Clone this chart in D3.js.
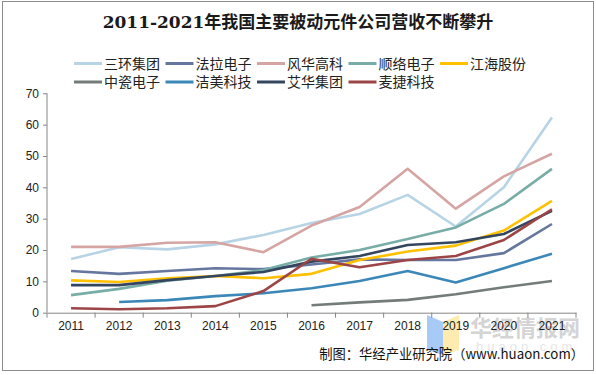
<!DOCTYPE html>
<html>
<head>
<meta charset="utf-8">
<script src="https://cdn.jsdelivr.net/npm/d3@7"></script>
<style>
body{margin:0;background:#fff;}
svg{display:block;font-family:Arial,"Liberation Sans",sans-serif;}
</style>
</head>
<body>
<svg id="chart" width="596" height="375"></svg>
<script>
// data
var years = ["2011","2012","2013","2014","2015","2016","2017","2018","2019","2020","2021"];
var yTicks = [0,10,20,30,40,50,60,70];
var names = ["三环集团","法拉电子","风华高科","顺络电子","江海股份","中瓷电子","洁美科技","艾华集团","麦捷科技"];
var colors = ["#b7d4e6","#66779f","#d5a5a4","#78ada7","#ffc000","#737c79","#3b88b8","#34455f","#9c4546"];
var sanhuan  = [17.1,20.9,20.2,21.8,24.8,28.6,31.5,37.6,27.5,40.0,62.3];
var fala     = [13.3,12.4,13.3,14.2,13.9,15.4,17.0,16.8,16.8,19.0,28.3];
var fenghua  = [21.0,21.0,22.3,22.5,19.3,27.8,33.7,45.9,33.2,43.5,50.7];
var shunluo  = [5.6,7.6,10.2,11.7,13.6,17.6,20.0,23.5,27.2,34.7,45.9];
var jianghai = [10.3,9.8,11.0,11.7,11.0,12.4,16.8,19.5,21.4,26.2,35.7];
var zhongci  = [null,null,null,null,null,2.4,3.3,4.1,5.9,8.1,10.1];
var jiemei   = [null,3.4,4.0,5.3,6.2,7.8,10.1,13.3,9.6,14.2,18.8];
var aihua    = [8.8,8.8,10.4,11.7,13.0,16.3,18.1,21.6,22.5,25.1,32.5];
var maijie   = [1.4,1.1,1.4,2.1,6.9,17.2,14.5,16.8,18.1,23.2,33.0];
var series = [sanhuan,fala,fenghua,shunluo,jianghai,zhongci,jiemei,aihua,maijie];

var svg = d3.select("#chart");

// outer frame
svg.append("rect").attr("x",2.5).attr("y",1.5).attr("width",591).attr("height",369)
  .attr("fill","none").attr("stroke","#8c8c8c").attr("stroke-width",1);

svg.append("text").attr("x",298).attr("y",28).attr("text-anchor","middle")
  .attr("font-family","'DejaVu Serif','Noto Sans CJK SC',serif").attr("font-weight","bold")
  .attr("font-size",17).attr("fill","#1a1a1a")
  .text("2011-2021年我国主要被动元件公司营收不断攀升");

// legend
var leg = svg.append("g").attr("font-family","'Noto Sans CJK SC',sans-serif");
names.forEach(function(n,i){
  var row = i < 5 ? 0 : 1, col = i < 5 ? i : i - 5;
  var lx = 74 + col*91.5, ly = 63.5 + row*18.5;
  leg.append("line").attr("x1",lx).attr("x2",lx+28).attr("y1",ly).attr("y2",ly)
    .attr("stroke",colors[i]).attr("stroke-width",3);
  leg.append("text").attr("x",lx+30).attr("y",ly).attr("dy","0.36em")
    .attr("font-size",14).attr("fill","#222").text(n);
});

var x = d3.scaleBand().domain(years).range([47,576]);
var y = d3.scaleLinear().domain([0,70]).range([312.7,93.3]);

// watermark
var wm = svg.append("g");
wm.append("path").attr("d","M427,315 L443,322 L443,355 L427,350 Z").attr("fill","#9fc4f5").attr("opacity",0.9);
wm.append("path").attr("d","M443,322 L459,315 L459,350 L443,355 Z").attr("fill","#fde9a6").attr("opacity",0.9);
wm.append("text").attr("x",470).attr("y",336).attr("font-family","'Noto Sans CJK SC',sans-serif")
  .attr("font-weight","bold").attr("font-size",22).attr("fill","#d4d4d4").text("华经情报网");
wm.append("text").attr("x",476).attr("y",351).attr("font-size",13).attr("letter-spacing","4px")
  .attr("fill","#e6e6e6").text("huaon.com");

// axes
var gy = svg.append("g").attr("transform","translate(47,0)")
  .call(d3.axisLeft(y).tickValues(yTicks).tickSize(4).tickPadding(4));
gy.select(".domain").attr("stroke","#868686").attr("d","M0,93.3V312.7");
gy.selectAll(".tick line").attr("stroke","#868686");
gy.selectAll("text").attr("font-size",12).attr("fill","#222");

var gx = svg.append("g").attr("transform","translate(0,312.7)")
  .call(d3.axisBottom(x).tickSize(0).tickPadding(9));
gx.select(".domain").attr("stroke","#868686");
gx.selectAll("text").attr("font-size",12).attr("fill","#222");
var edges = d3.range(years.length+1).map(function(k){ return 47 + k*x.bandwidth(); });
gx.selectAll(".edge").data(edges).enter().append("line")
  .attr("x1",function(d){return d;}).attr("x2",function(d){return d;})
  .attr("y1",0).attr("y2",5).attr("stroke","#868686");

// lines
var line = d3.line()
  .defined(function(d){ return d !== null; })
  .x(function(d,i){ return x(years[i]) + x.bandwidth()/2; })
  .y(function(d){ return y(d); });

series.forEach(function(s,i){
  svg.append("path").datum(s).attr("fill","none").attr("stroke",colors[i])
    .attr("stroke-width",2.6).attr("stroke-linejoin","round").attr("d",line);
});

svg.append("text").attr("x",584).attr("y",359).attr("text-anchor","end")
  .attr("font-family","'Noto Sans CJK SC',sans-serif").attr("font-size",13.3).attr("fill","#111")
  .text("制图：华经产业研究院（www.huaon.com）");
</script>
</body>
</html>
